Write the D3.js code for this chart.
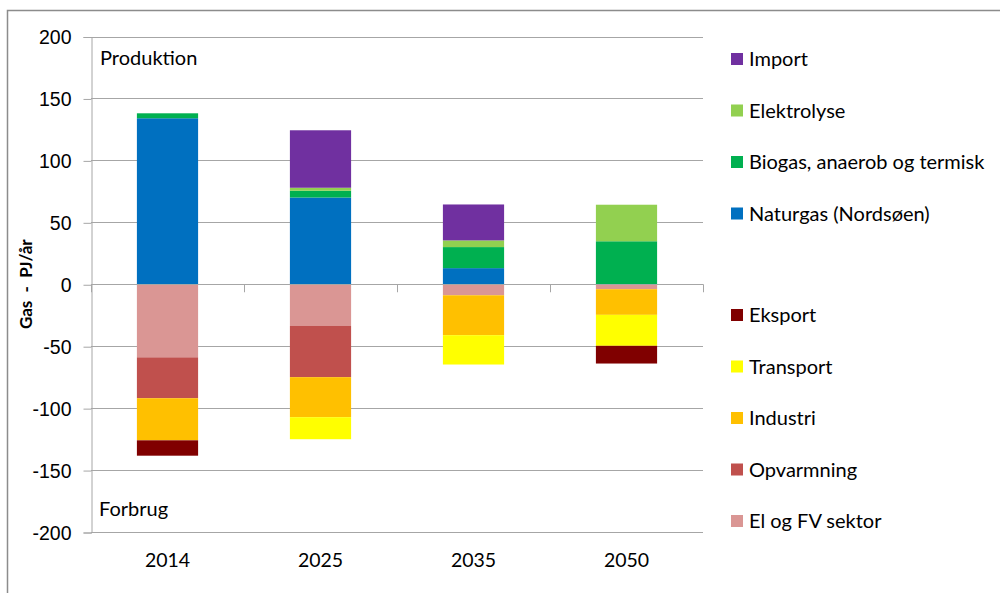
<!DOCTYPE html>
<html lang="da">
<head>
<meta charset="UTF-8">
<title>Gas - PJ/år</title>
<script src="https://cdn.jsdelivr.net/npm/d3@7.9.0/dist/d3.min.js"></script>
<style>
    body { margin: 0; background: #fff; }
    svg { display: block; font-family: Lato, "Noto Sans", sans-serif; }
    .tick text { font-size: 19.5px; fill: #000; }
    .legend-text { font-size: 20px; fill: #000; }
</style>
</head>
<body>
<svg id="chart" width="1000" height="593"></svg>
<script>
    // --- data ---
    const years = ["2014", "2025", "2035", "2050"];

    // production (positive), stacked bottom -> top
    const naturgas = [134, 70, 13, 0];
    const biogas = [4, 5.5, 17, 34.7];
    const elektrolyse = [0, 2.4, 5.4, 29.5];
    const importGas = [0, 46.4, 29, 0];

    // consumption (negative), stacked top -> bottom
    const elOgFv = [-59, -33.7, -8.9, -4];
    const opvarmning = [-33, -41.3, 0, 0];
    const industri = [-34, -32.3, -32.2, -20.7];
    const transport = [0, -17.8, -23.7, -25];
    const eksport = [-12.4, 0, 0, -14.3];

    const yTicks = [-200, -150, -100, -50, 0, 50, 100, 150, 200];

    const series = [
        { name: "Naturgas (Nordsøen)", values: naturgas, color: "#0070C0" },
        { name: "Biogas, anaerob og termisk", values: biogas, color: "#00B050" },
        { name: "Elektrolyse", values: elektrolyse, color: "#92D050" },
        { name: "Import", values: importGas, color: "#7030A0" },
        { name: "El og FV sektor", values: elOgFv, color: "#DA9694" },
        { name: "Opvarmning", values: opvarmning, color: "#C0504D" },
        { name: "Industri", values: industri, color: "#FFC000" },
        { name: "Transport", values: transport, color: "#FFFF00" },
        { name: "Eksport", values: eksport, color: "#800000" }
    ];

    const legendTop = ["Import", "Elektrolyse", "Biogas, anaerob og termisk", "Naturgas (Nordsøen)"];
    const legendBottom = ["Eksport", "Transport", "Industri", "Opvarmning", "El og FV sektor"];

    // --- layout ---
    const svg = d3.select("#chart");
    const plot = { left: 91, right: 703, top: 36.5, bottom: 532 };

    const x = d3.scaleBand()
        .domain(years)
        .range([plot.left, plot.right])
        .paddingInner(0.6)
        .paddingOuter(0.3);

    const y = d3.scaleLinear()
        .domain([-200, 200])
        .range([plot.bottom, plot.top]);

    // outer frame (top + left only visible)
    svg.append("path")
        .attr("d", "M7.5,593 V10.5 H1000")
        .attr("fill", "none")
        .attr("stroke", "#8c8c8c")
        .attr("stroke-width", 1.5);

    // gridlines
    svg.append("g")
        .selectAll("line")
        .data(yTicks)
        .join("line")
        .attr("x1", plot.left)
        .attr("x2", plot.right)
        .attr("y1", d => Math.round(y(d)) + 0.5)
        .attr("y2", d => Math.round(y(d)) + 0.5)
        .attr("stroke", "#a6a6a6")
        .attr("stroke-width", 1);

    // y axis (plain hyphen minus, like the original)
    const yAxis = svg.append("g")
        .attr("transform", `translate(${plot.left + 0.5},0.5)`)
        .call(d3.axisLeft(y).tickValues(yTicks).tickSize(8).tickPadding(12).tickFormat(d => String(d)));
    yAxis.select(".domain").attr("stroke", "#a6a6a6");
    yAxis.selectAll(".tick line").attr("stroke", "#a6a6a6");
    yAxis.selectAll(".tick text").attr("dy", "0.34em");

    // stacked bars
    const bars = svg.append("g");
    years.forEach((yr, i) => {
        let pos = 0, neg = 0;
        series.forEach(s => {
            const v = s.values[i];
            if (!v) return;
            let y0, y1;
            if (v > 0) { y0 = pos; y1 = pos + v; pos = y1; }
            else { y0 = neg; y1 = neg + v; neg = y1; }
            bars.append("rect")
                .attr("x", x(yr))
                .attr("width", x.bandwidth())
                .attr("y", y(Math.max(y0, y1)))
                .attr("height", Math.abs(y(y0) - y(y1)))
                .attr("fill", s.color);
        });
    });

    // category axis along zero line
    const boundaries = d3.range(years.length + 1).map(k => plot.left + k * x.step());
    svg.append("line")
        .attr("x1", plot.left).attr("x2", plot.right)
        .attr("y1", Math.round(y(0)) + 0.5).attr("y2", Math.round(y(0)) + 0.5)
        .attr("stroke", "#a6a6a6");
    svg.append("g")
        .selectAll("line")
        .data(boundaries)
        .join("line")
        .attr("x1", d => Math.round(d) + 0.5)
        .attr("x2", d => Math.round(d) + 0.5)
        .attr("y1", y(0))
        .attr("y2", y(0) + 8)
        .attr("stroke", "#a6a6a6");

    // category labels at the bottom
    svg.append("g")
        .selectAll("text")
        .data(years)
        .join("text")
        .attr("x", d => x(d) + x.bandwidth() / 2)
        .attr("y", 567)
        .attr("text-anchor", "middle")
        .attr("font-size", 19.5)
        .text(d => d);

    // annotations
    svg.append("text").attr("x", 100).attr("y", 65).attr("font-size", 20).text("Produktion");
    svg.append("text").attr("x", 99).attr("y", 516).attr("font-size", 20).text("Forbrug");

    // y axis title
    svg.append("text")
        .attr("transform", `translate(32,${y(0)}) rotate(-90)`)
        .attr("text-anchor", "middle")
        .attr("font-size", 17)
        .attr("font-weight", "bold")
        .attr("xml:space", "preserve")
        .text("Gas  -  PJ/år");

    // legend
    const colorOf = name => series.find(s => s.name === name).color;
    function drawLegend(names, startY) {
        const g = svg.append("g");
        names.forEach((n, k) => {
            const cy = startY + k * 51.5;
            g.append("rect")
                .attr("x", 731).attr("y", cy - 6)
                .attr("width", 12).attr("height", 12)
                .attr("fill", colorOf(n));
            g.append("text")
                .attr("class", "legend-text")
                .attr("x", 749).attr("y", cy)
                .attr("dy", "0.35em")
                .text(n);
        });
    }
    drawLegend(legendTop, 59);
    drawLegend(legendBottom, 315);
</script>
</body>
</html>
